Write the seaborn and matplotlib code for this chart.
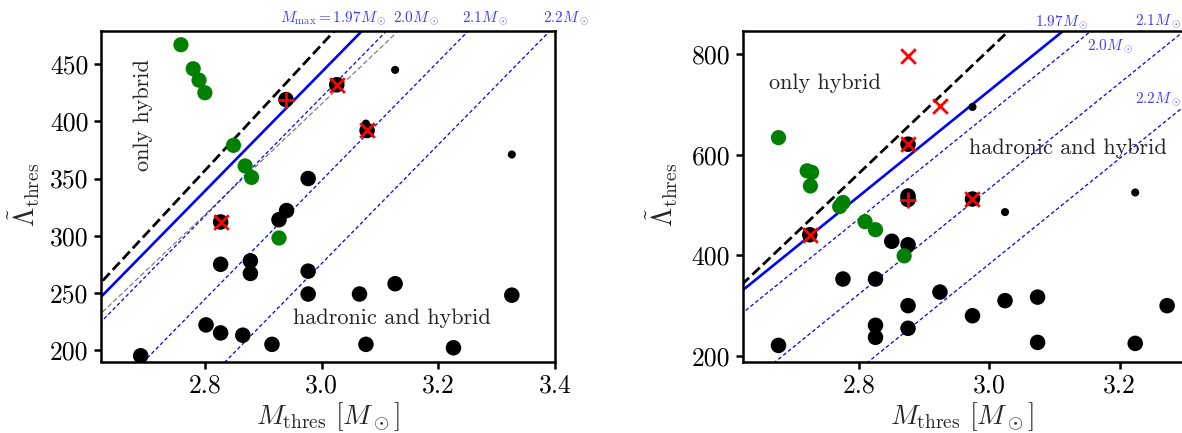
import numpy as np
import pandas as pd
import matplotlib
matplotlib.use("Agg")
import matplotlib.pyplot as plt
import seaborn as sns

sns.set_style("ticks")
plt.rcParams.update({
    "font.family": "serif",
    "font.serif": ["cmr10"],
    "mathtext.fontset": "cm",
    "axes.unicode_minus": False,
    "axes.formatter.use_mathtext": True,
    "axes.linewidth": 1.8,
    "axes.edgecolor": "black",
    "xtick.major.width": 1.8,
    "ytick.major.width": 1.8,
    "xtick.major.size": 5,
    "ytick.major.size": 5,
    "xtick.major.pad": 4,
    "ytick.major.pad": 4,
    "xtick.color": "black",
    "ytick.color": "black",
})

# ---- left panel: threshold mass vs. tidal deformability ----
left_black_M = [2.690, 2.802, 2.827, 2.865, 2.915, 3.076, 3.226, 2.827, 2.878, 2.878, 2.977,
                2.977, 3.065, 3.126, 3.326, 2.927, 2.940, 2.977, 2.827, 2.939, 3.026, 3.078]
left_black_L = [195, 222, 215, 213, 205, 205, 202, 275, 278, 267, 269,
                249, 249, 258, 248, 314, 322, 350, 312, 419, 432, 392]
left_small_M = [3.126, 3.326, 3.076]
left_small_L = [445, 371, 398]
left_green_M = [2.759, 2.780, 2.790, 2.800, 2.849, 2.869, 2.880, 2.927]
left_green_L = [467, 446, 436, 425, 379, 361, 351, 298]
left_cross_M = [2.827, 3.026, 3.078]
left_cross_L = [312, 432, 392]
left_plus_M = [2.939]
left_plus_L = [419]

# ---- right panel ----
right_black_M = [2.724, 2.875, 2.875, 2.875, 2.974, 2.850, 2.875, 2.775, 2.825, 2.924, 2.875,
                 3.024, 3.074, 3.273, 2.974, 2.825, 2.825, 2.875, 2.676, 3.074, 3.224]
right_black_L = [441, 621, 518, 511, 512, 428, 421, 353, 353, 327, 300,
                 310, 317, 300, 280, 261, 237, 255, 221, 227, 225]
right_small_M = [2.974, 3.224, 3.024]
right_small_L = [695, 525, 486]
right_green_M = [2.676, 2.720, 2.727, 2.725, 2.775, 2.770, 2.809, 2.825, 2.869]
right_green_L = [634, 568, 565, 538, 505, 497, 467, 451, 399]
right_cross_M = [2.875, 2.924, 2.875, 2.974, 2.724]
right_cross_L = [797, 697, 621, 512, 441]
right_plus_M = [2.875]
right_plus_L = [511]

# maximum-mass levels for the threshold relations
mmax_levels = [1.97, 2.0, 2.1, 2.2]
# Lambda = slope * (M - (a * Mmax + b))
left_fit = dict(slope=520.0, a=1.40, b=-0.61)
right_fit = dict(slope=1047.0, a=1.43, b=-0.512)
# separating lines (slope, offset mass)
left_sep = dict(slope=550.0, m0=2.151)
left_gray = dict(slope=485.0, m0=2.1437)
right_sep = dict(slope=1230.0, m0=2.3418)

W, H = 1182, 433
fig = plt.figure(figsize=(W / 100, H / 100), dpi=100)
axL = fig.add_axes([101 / W, (H - 361.5) / H, 454 / W, 330.5 / H])
axR = fig.add_axes([742.7 / W, (H - 361.5) / H, 442 / W, 330.5 / H])

lab_blue = (0.25, 0.25, 0.95)


def draw_points(ax, bM, bL, sM, sL, gM, gL, xM, xL, pM, pL):
    sns.scatterplot(x=bM, y=bL, ax=ax, color="black", s=125, edgecolor="none", zorder=3)
    sns.scatterplot(x=sM, y=sL, ax=ax, color="black", s=34, edgecolor="none", zorder=4)
    sns.scatterplot(x=gM, y=gL, ax=ax, color="green", s=120, edgecolor="none", zorder=5)
    sns.scatterplot(x=xM, y=xL, ax=ax, color="red", marker="x", s=110, linewidth=2.0, zorder=6)
    sns.scatterplot(x=pM, y=pL, ax=ax, color="red", marker="+", s=130, linewidth=2.0, zorder=6)


def draw_lines(ax, fit, sep, gray, xlim):
    mgrid = np.linspace(xlim[0] - 0.1, xlim[1] + 0.1, 50)
    sns.lineplot(x=mgrid, y=sep["slope"] * (mgrid - sep["m0"]), ax=ax, color="black",
                 linestyle="--", linewidth=2.0, zorder=2)
    if gray is not None:
        sns.lineplot(x=mgrid, y=gray["slope"] * (mgrid - gray["m0"]), ax=ax, color="gray",
                     linestyle=(0, (4, 2)), linewidth=0.9, zorder=2)
    for i, mm in enumerate(mmax_levels):
        lam = fit["slope"] * (mgrid - (fit["a"] * mm + fit["b"]))
        if i == 0:
            sns.lineplot(x=mgrid, y=lam, ax=ax, color="blue", linewidth=1.9, zorder=2)
        else:
            sns.lineplot(x=mgrid, y=lam, ax=ax, color="blue", linestyle=(0, (3, 2)),
                         linewidth=0.9, zorder=2)


# left panel
xlimL, ylimL = (2.622, 3.4), (190, 479)
draw_lines(axL, left_fit, left_sep, left_gray, xlimL)
draw_points(axL, left_black_M, left_black_L, left_small_M, left_small_L,
            left_green_M, left_green_L, left_cross_M, left_cross_L, left_plus_M, left_plus_L)
axL.set_xlim(*xlimL)
axL.set_ylim(*ylimL)
axL.set_xticks([2.8, 3.0, 3.2, 3.4])
axL.set_yticks([200, 250, 300, 350, 400, 450])

# right panel
xlimR, ylimR = (2.621, 3.3), (189, 846)
draw_lines(axR, right_fit, right_sep, None, xlimR)
draw_points(axR, right_black_M, right_black_L, right_small_M, right_small_L,
            right_green_M, right_green_L, right_cross_M, right_cross_L, right_plus_M, right_plus_L)
axR.set_xlim(*xlimR)
axR.set_ylim(*ylimR)
axR.set_xticks([2.8, 3.0, 3.2])
axR.set_yticks([200, 400, 600, 800])

for ax in (axL, axR):
    ax.tick_params(axis="both", labelsize=18.5, direction="out", top=False, right=False)
    ax.set_xticklabels([f"{t:.1f}" for t in ax.get_xticks()])
    ax.set_yticklabels([f"{int(t)}" for t in ax.get_yticks()])
    for sp in ax.spines.values():
        sp.set_visible(True)
        sp.set_linewidth(1.8)
    ax.set_xlabel(r"$M_{\rm thres}\ [M_\odot]$", fontsize=20)
    ax.set_ylabel(r"$\tilde{\Lambda}_{\rm thres}$", fontsize=20)

axL.xaxis.set_label_coords(0.499, -0.118)
axR.xaxis.set_label_coords(0.497, -0.118)
axL.yaxis.set_label_coords(-0.130, 0.504)
axR.yaxis.set_label_coords(-0.142, 0.504)

# region annotations
axL.text(0.0936, 0.7458, "only hybrid", transform=axL.transAxes, rotation=90,
         ha="center", va="center", fontsize=16)
axL.text(0.6405, 0.1307, "hadronic and hybrid", transform=axL.transAxes,
         ha="center", va="center", fontsize=16)
axR.text(0.1861, 0.8417, "only hybrid", transform=axR.transAxes,
         ha="center", va="center", fontsize=16)
axR.text(0.736, 0.645, "hadronic and hybrid", transform=axR.transAxes,
         ha="center", va="center", fontsize=16)

# maximum-mass labels
labL = [(0.394, 1.039, r"$M_{\rm max} = 1.97M_\odot$"), (0.644, 1.039, r"$2.0M_\odot$"),
        (0.795, 1.039, r"$2.1M_\odot$"), (0.974, 1.039, r"$2.2M_\odot$")]
for x, y, t in labL:
    axL.text(x, y, t, transform=axL.transAxes, ha="left", va="center",
             fontsize=11, color=lab_blue)
labR = [(0.661, 1.028, r"$1.97M_\odot$"), (0.888, 1.030, r"$2.1M_\odot$"),
        (0.779, 0.9525, r"$2.0M_\odot$"), (0.888, 0.794, r"$2.2M_\odot$")]
for x, y, t in labR:
    axR.text(x, y, t, transform=axR.transAxes, ha="left", va="center",
             fontsize=11, color=lab_blue)

fig.savefig("out.png", dpi=100)
